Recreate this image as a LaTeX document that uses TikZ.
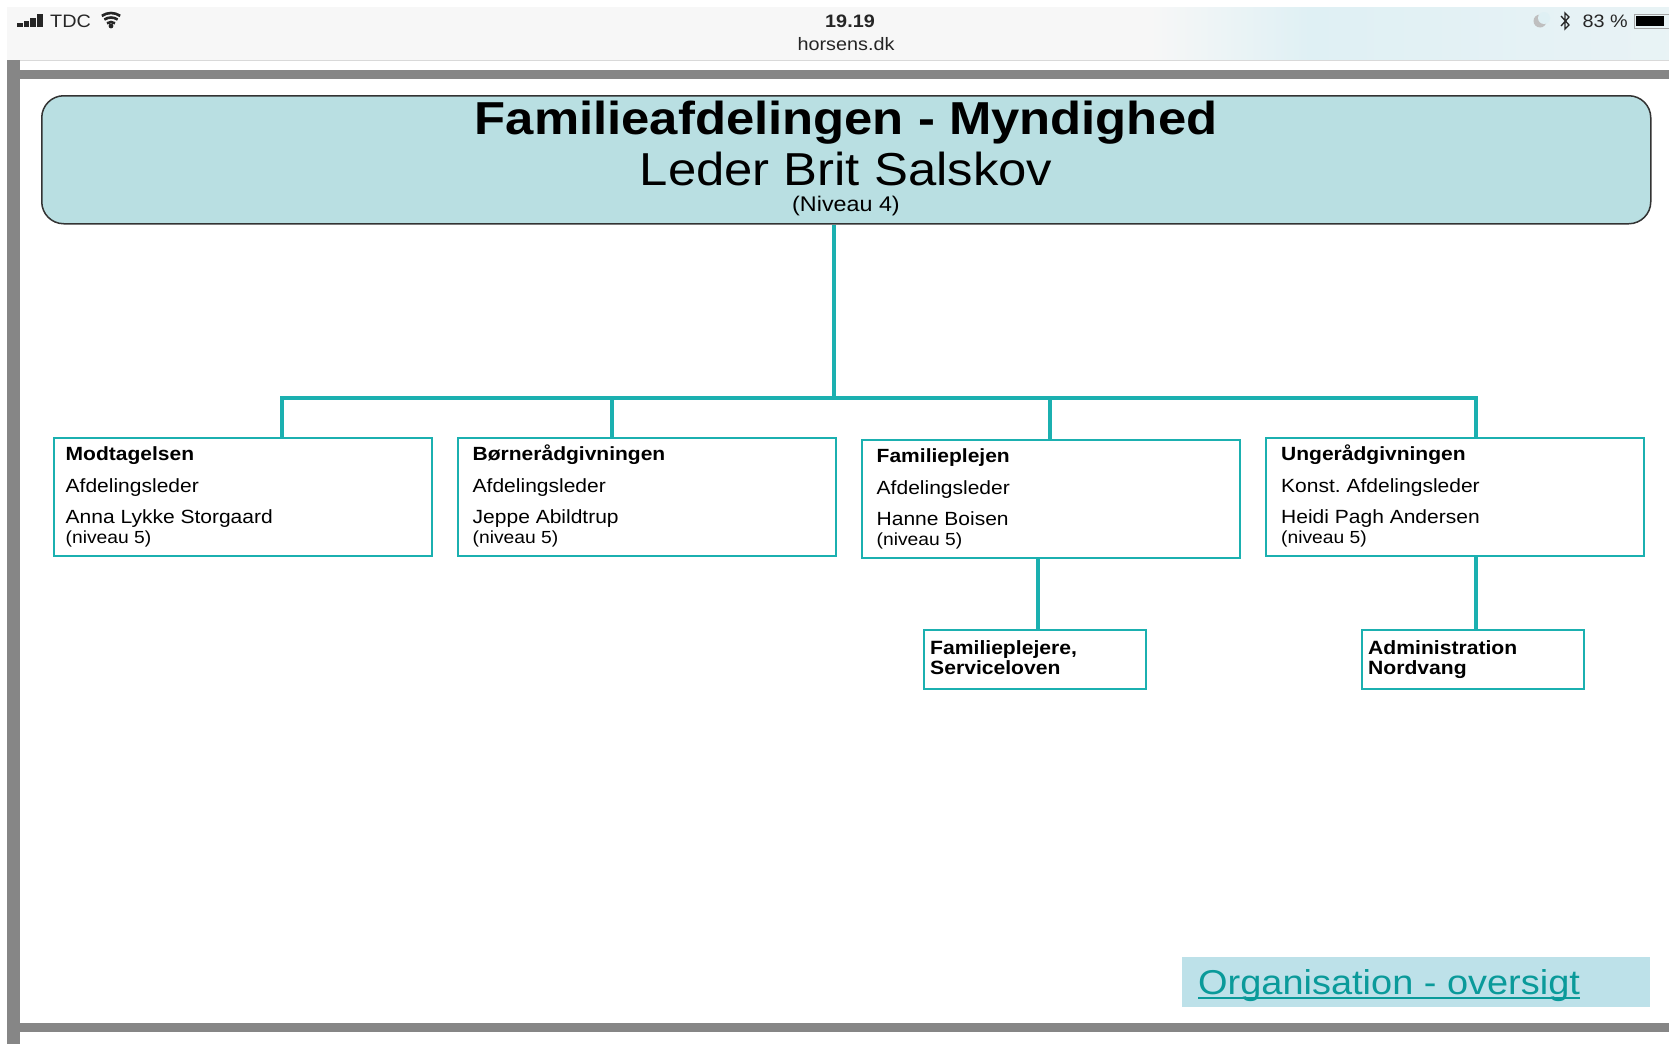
\documentclass[tikz,border=0pt]{standalone}
\usepackage{fontspec}
\setmainfont{Liberation Sans}[FakeStretch=1.1]
\usepackage{tikz}
\usetikzlibrary{positioning}

\definecolor{tealline}{HTML}{1BB0B0}
\definecolor{linktext}{HTML}{0A9A9A}
\definecolor{headfill}{HTML}{B9DFE2}
\definecolor{linkfill}{HTML}{BDE1E9}
\definecolor{bargrey}{HTML}{868686}
\definecolor{statusgrey}{HTML}{F7F7F7}
\definecolor{statusblue}{HTML}{DFF0F4}

\frenchspacing
\begin{document}
\begin{tikzpicture}[x=1pt,y=-1pt,
  unitbox/.style={draw=tealline,line width=2pt,fill=white,anchor=north west,inner sep=0pt,minimum width=378pt,minimum height=118pt},
  subbox/.style={draw=tealline,line width=2pt,fill=white,anchor=north west,inner sep=0pt,minimum width=222pt,minimum height=59pt},
  unittext/.style={inner sep=0pt,anchor=north west,align=left,font=\fontsize{19.1}{20}\selectfont},
  subtext/.style={inner sep=0pt,anchor=north west,align=left,font=\fontsize{19.2}{20.5}\selectfont\bfseries},
  conn/.style={draw=tealline,line width=3.1pt},
  statustext/.style={inner sep=0pt,font=\fontsize{18}{20}\selectfont,text=black!85}]
\useasboundingbox (0,0) rectangle (1669,1044);

% status bar
\fill[statusgrey] (7,7) rectangle (1150,60);
\shade[left color=statusgrey,right color=statusblue,shading angle=90] (1150,7) rectangle (1310,60);
\shade[left color=statusblue,right color=statusblue!60!statusgrey,shading angle=90] (1310,7) rectangle (1669,60);
\draw[black!15] (7,60) -- (1669,60);
\foreach \x/\h in {17/4,23.5/6,30/9,37/13}{
\fill[black!85] (\x,27-\h) rectangle (\x+5.5,27);}
\node[statustext,anchor=west] (carrier) at (50,21) {TDC};
\fill[black!85] (111,26) circle (2.4);
\foreach \r in {7,11.5,16}{
\draw[black!85,line width=2.6pt] (111,29)++(-125:\r) arc[start angle=-125,end angle=-55,radius=\r];}
\node[statustext,font=\fontsize{18}{20}\selectfont\bfseries] (clock) at (850,21) {19.19};
\node[statustext] (site) at (846,44) {horsens.dk};
\fill[black!25] (1540,21) circle (6.5);
\fill[statusblue] (1544,18) circle (6);
\draw[black!85,line width=1.3pt] (1561,16) -- (1569,25) -- (1565,29) -- (1565,13) -- (1569,17) -- (1561,26);
\node[statustext,anchor=east] (battlabel) at (1628,21) {83 \%};
\draw[black!35,line width=1pt] (1634,14) rectangle (1672,28);
\fill[black] (1636,16) rectangle (1664,26);

% frame
\fill[bargrey] (7,60) rectangle (20,1044);
\fill[bargrey] (7,70) rectangle (1669,79);
\fill[bargrey] (7,1023) rectangle (1669,1032);

% top box
\node[draw=black!80,line width=1.5pt,fill=headfill,rounded corners=22pt,anchor=north west,inner sep=0pt,minimum width=1609pt,minimum height=128pt] (leder) at (41,95) {};
\node[inner sep=0pt,font=\fontsize{46.2}{48}\selectfont\bfseries] (title) at (846,123) {Familieafdelingen - Myndighed};
\node[inner sep=0pt,font=\fontsize{46.2}{48}\selectfont] (name) at (846,169) {Leder Brit Salskov};
\node[inner sep=0pt,font=\fontsize{21.2}{23}\selectfont] (level) at (846,206) {(Niveau 4)};

% units
\foreach \n/\x/\y/\d/\a/\b/\c in {
  modt/53/437/12.5/Modtagelsen/Afdelingsleder/Anna Lykke Storgaard,
  boern/457/437/15.5/Børnerådgivningen/Afdelingsleder/Jeppe Abildtrup,
  fam/861/439/15.5/Familieplejen/Afdelingsleder/Hanne Boisen,
  unge/1265/437/16/Ungerådgivningen/Konst. Afdelingsleder/Heidi Pagh Andersen}{
\node[unitbox] (\n) at (\x,\y) {};
\node[unittext,below right=5.6pt and \d pt of \n.north west] (\n-text) {\rule{0pt}{18pt}\textbf{\a}\\[12pt]\b\\[11pt]\c\\{\fontsize{17.5}{20}\selectfont (niveau 5)}};}

\node[subbox] (plejere) at (923,629) {};
\node[subtext,below right=11pt and 7pt of plejere.north west] (plejere-text) {Familieplejere,\\Serviceloven};
\node[subbox] (admin) at (1361,629) {};
\node[subtext,below right=11pt and 7pt of admin.north west] (admin-text) {Administration\\Nordvang};

% connectors
\coordinate (trunk) at (834,398);
\coordinate (left) at (282,398);
\coordinate (right) at (1476,398);
\coordinate (drop2) at (612,398);
\coordinate (drop3) at (1050,398);
\coordinate (drop4) at (1038,500);
\draw[conn] (leder.south -| trunk) -- (trunk);
\draw[conn] (modt.north -| left) -- (left) -- (right) -- (unge.north -| right);
\draw[conn] (drop2) -- (boern.north -| drop2);
\draw[conn] (drop3) -- (fam.north -| drop3);
\draw[conn] (fam.south -| drop4) -- (plejere.north -| drop4);
\draw[conn] (unge.south -| right) -- (admin.north -| right);

% link
\node[fill=linkfill,anchor=north west,inner sep=0pt,minimum width=468pt,minimum height=50pt] (linkbox) at (1182,957) {};
\node[inner sep=0pt,anchor=west,text=linktext,font=\fontsize{34.5}{38}\selectfont] (link) at (1198,986) {Organisation - oversigt};
\draw[linktext,line width=2pt] ([yshift=-3pt]link.base west) -- ([yshift=-3pt]link.base east);
\end{tikzpicture}
\end{document}
